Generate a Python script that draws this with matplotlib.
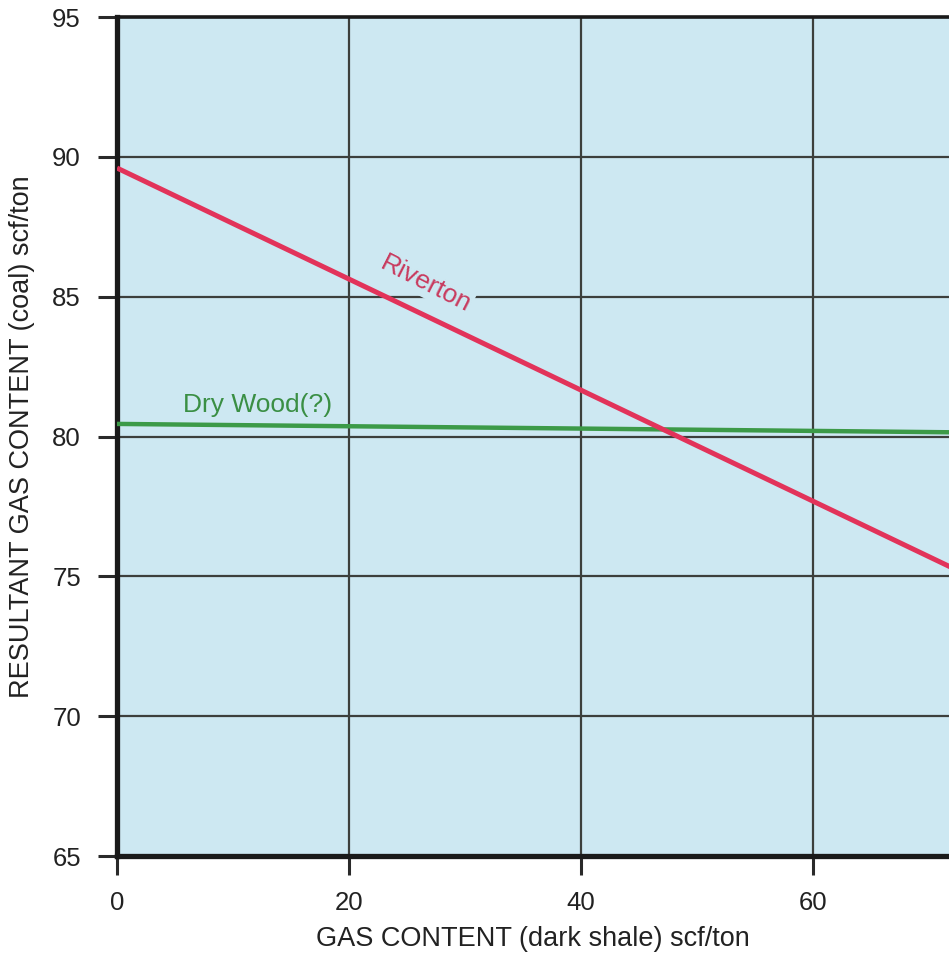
import matplotlib
matplotlib.use("Agg")
import matplotlib.pyplot as plt

plt.rcParams['font.family'] = ['Liberation Sans', 'DejaVu Sans']

# Data
riverton_x = [0, 72]
riverton_y = [89.6, 75.3]
drywood_x = [0, 72]
drywood_y = [80.45, 80.15]
xticks = [0, 20, 40, 60]
yticks = [65, 70, 75, 80, 85, 90, 95]

fig = plt.figure(figsize=(9.49, 9.57), dpi=100)
fig.patch.set_facecolor('white')
ax = fig.add_axes([117/949, 1-856/957, 1-117/949, (856-17)/957])
ax.set_facecolor('#cde8f2')

ax.set_xlim(0, 71.7)
ax.set_ylim(65, 95)
ax.set_xticks(xticks)
ax.set_yticks(yticks)
ax.grid(True, color='#3c3f3c', linewidth=1.6, zorder=1)
ax.set_axisbelow(True)

ax.plot(riverton_x, riverton_y, color='#e2335a', linewidth=3.6, zorder=4, solid_capstyle='butt')
ax.plot(drywood_x, drywood_y, color='#3c9a48', linewidth=3.2, zorder=3, solid_capstyle='butt')

ax.text(26.6, 85.45, 'Riverton', color='#c83a5e', fontsize=19, rotation=-27,
        ha='center', va='center', zorder=2,
        bbox=dict(facecolor='#cde8f2', edgecolor='none', pad=1))
ax.text(5.7, 80.7, 'Dry Wood(?)', color='#3a8f44', fontsize=19,
        ha='left', va='bottom', zorder=3)

for s in ['left', 'bottom']:
    ax.spines[s].set_linewidth(3.8)
    ax.spines[s].set_color('#1a1a1a')
ax.spines['top'].set_linewidth(2.6)
ax.spines['top'].set_color('#1a1a1a')
ax.spines['right'].set_visible(False)

ax.tick_params(axis='both', direction='out', length=14, width=2.2, color='#2a2a2a',
               labelsize=18.5, labelcolor='#222222', pad=11)
ax.tick_params(axis='y', pad=12)

ax.set_xlabel('GAS CONTENT (dark shale) scf/ton', fontsize=19.5, color='#222222', labelpad=8)
ax.set_ylabel('RESULTANT GAS CONTENT (coal) scf/ton', fontsize=19.5, color='#222222', labelpad=12)

fig.savefig('out.png', dpi=100)
